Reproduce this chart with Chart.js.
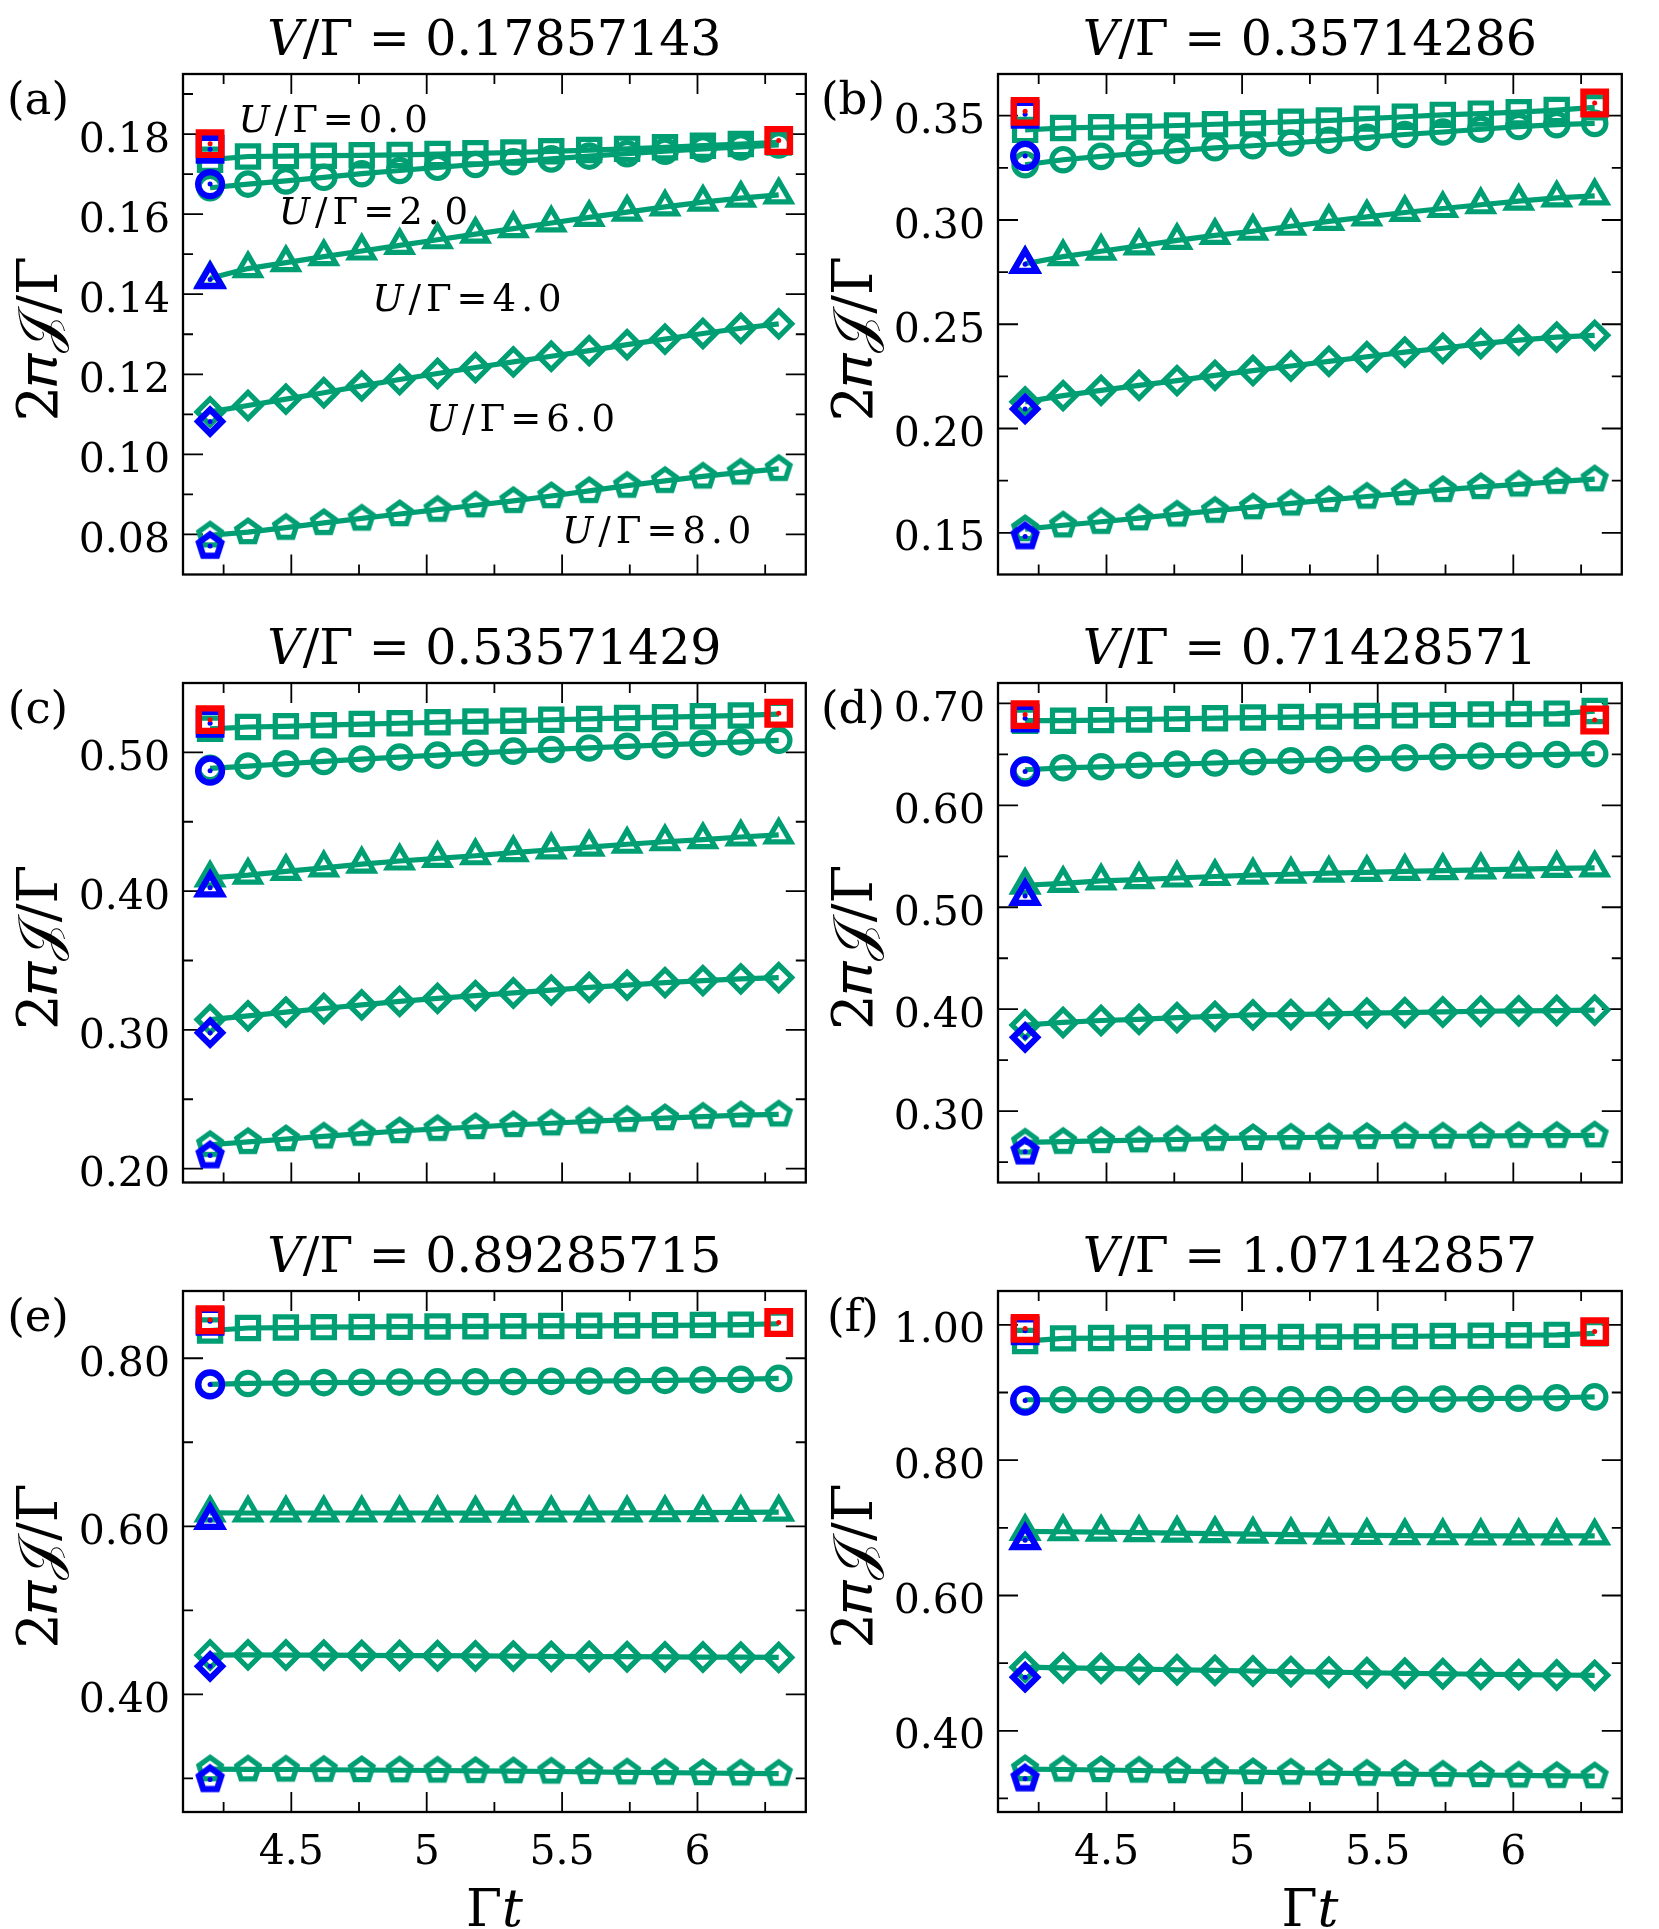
<!DOCTYPE html>
<html>
<head>
<meta charset="utf-8">
<title>Current vs time</title>
<script src="https://cdn.jsdelivr.net/npm/chart.js@4.4.1/dist/chart.umd.min.js"></script>
<style>
  html, body { margin: 0; padding: 0; background: #fff; }
  body { position: relative; width: 1659px; height: 1929px; overflow: hidden; }
  .panel { position: absolute; }
</style>
</head>
<body>
<script>
var FONT = '"DejaVu Serif", serif';
var GREEN = '#009e73', BLUE = '#0000ff', RED = '#ff0000';

// time axis (Gamma t) shared by every panel
var times = [4.20, 4.34, 4.48, 4.62, 4.76, 4.90, 5.04, 5.18, 5.32, 5.46, 5.60, 5.74, 5.88, 6.02, 6.16, 6.30];
var vOverGamma = ['0.17857143', '0.35714286', '0.53571429', '0.71428571', '0.89285715', '1.07142857'];
var uValues = ['0.0', '2.0', '4.0', '6.0', '8.0'];
var panelLetters = ['(a)', '(b)', '(c)', '(d)', '(e)', '(f)'];

// rows: U/Gamma = 0, 2, 4, 6, 8
var currentA = [
  [0.1736, 0.1744, 0.1745, 0.1746, 0.1747, 0.1748, 0.1750, 0.1752, 0.1754, 0.1757, 0.1760, 0.1763, 0.1767, 0.1771, 0.1775, 0.1779],
  [0.1666, 0.1675, 0.1683, 0.1692, 0.1701, 0.1709, 0.1717, 0.1724, 0.1731, 0.1738, 0.1745, 0.1751, 0.1757, 0.1763, 0.1768, 0.1773],
  [0.1440, 0.1464, 0.1479, 0.1494, 0.1508, 0.1522, 0.1536, 0.1550, 0.1564, 0.1578, 0.1592, 0.1605, 0.1618, 0.1630, 0.1640, 0.1648],
  [0.1106, 0.1122, 0.1138, 0.1154, 0.1171, 0.1187, 0.1202, 0.1217, 0.1231, 0.1245, 0.1259, 0.1274, 0.1288, 0.1302, 0.1315, 0.1326],
  [0.0798, 0.0806, 0.0817, 0.0829, 0.0840, 0.0851, 0.0862, 0.0873, 0.0884, 0.0896, 0.0909, 0.0922, 0.0934, 0.0945, 0.0955, 0.0964]
];
var currentB = [
  [0.3432, 0.3441, 0.3445, 0.3448, 0.3453, 0.3459, 0.3464, 0.3471, 0.3477, 0.3486, 0.3495, 0.3504, 0.3510, 0.3517, 0.3527, 0.3540],
  [0.3265, 0.3289, 0.3305, 0.3319, 0.3333, 0.3346, 0.3356, 0.3369, 0.3382, 0.3396, 0.3410, 0.3422, 0.3435, 0.3448, 0.3457, 0.3463],
  [0.2790, 0.2824, 0.2850, 0.2876, 0.2902, 0.2926, 0.2946, 0.2970, 0.2993, 0.3015, 0.3036, 0.3055, 0.3073, 0.3090, 0.3106, 0.3116],
  [0.2128, 0.2158, 0.2183, 0.2207, 0.2230, 0.2255, 0.2278, 0.2300, 0.2322, 0.2344, 0.2366, 0.2385, 0.2407, 0.2424, 0.2438, 0.2447],
  [0.1518, 0.1536, 0.1553, 0.1570, 0.1588, 0.1606, 0.1623, 0.1641, 0.1658, 0.1674, 0.1690, 0.1706, 0.1720, 0.1732, 0.1745, 0.1757]
];
var currentC = [
  [0.5170, 0.5183, 0.5188, 0.5196, 0.5204, 0.5210, 0.5217, 0.5223, 0.5228, 0.5235, 0.5241, 0.5248, 0.5254, 0.5260, 0.5266, 0.5276],
  [0.4885, 0.4901, 0.4918, 0.4935, 0.4952, 0.4966, 0.4980, 0.4995, 0.5009, 0.5021, 0.5032, 0.5043, 0.5054, 0.5065, 0.5076, 0.5087],
  [0.4095, 0.4115, 0.4142, 0.4168, 0.4195, 0.4217, 0.4236, 0.4255, 0.4277, 0.4298, 0.4317, 0.4338, 0.4356, 0.4371, 0.4390, 0.4405],
  [0.3074, 0.3101, 0.3128, 0.3154, 0.3180, 0.3205, 0.3227, 0.3247, 0.3266, 0.3287, 0.3306, 0.3323, 0.3341, 0.3355, 0.3368, 0.3377],
  [0.2172, 0.2193, 0.2213, 0.2232, 0.2252, 0.2271, 0.2287, 0.2300, 0.2315, 0.2327, 0.2340, 0.2353, 0.2364, 0.2375, 0.2385, 0.2391]
];
var currentD = [
  [0.6830, 0.6830, 0.6836, 0.6842, 0.6848, 0.6855, 0.6861, 0.6866, 0.6872, 0.6877, 0.6882, 0.6887, 0.6892, 0.6896, 0.6900, 0.6925],
  [0.6349, 0.6368, 0.6378, 0.6393, 0.6404, 0.6415, 0.6428, 0.6437, 0.6448, 0.6458, 0.6466, 0.6476, 0.6484, 0.6492, 0.6499, 0.6506],
  [0.5216, 0.5234, 0.5258, 0.5272, 0.5287, 0.5302, 0.5316, 0.5324, 0.5334, 0.5342, 0.5353, 0.5360, 0.5367, 0.5375, 0.5382, 0.5386],
  [0.3845, 0.3870, 0.3889, 0.3900, 0.3918, 0.3929, 0.3944, 0.3947, 0.3955, 0.3962, 0.3966, 0.3973, 0.3980, 0.3984, 0.3987, 0.3991],
  [0.2693, 0.2700, 0.2708, 0.2715, 0.2722, 0.2730, 0.2737, 0.2741, 0.2744, 0.2748, 0.2752, 0.2752, 0.2755, 0.2759, 0.2759, 0.2763]
];
var currentE = [
  [0.8330, 0.8360, 0.8365, 0.8370, 0.8372, 0.8375, 0.8377, 0.8380, 0.8382, 0.8384, 0.8386, 0.8389, 0.8392, 0.8395, 0.8400, 0.8410],
  [0.7688, 0.7700, 0.7705, 0.7710, 0.7713, 0.7716, 0.7718, 0.7720, 0.7722, 0.7725, 0.7728, 0.7732, 0.7737, 0.7742, 0.7748, 0.7760],
  [0.6160, 0.6158, 0.6158, 0.6158, 0.6158, 0.6158, 0.6158, 0.6157, 0.6157, 0.6158, 0.6158, 0.6159, 0.6161, 0.6163, 0.6165, 0.6168],
  [0.4468, 0.4470, 0.4468, 0.4466, 0.4464, 0.4462, 0.4460, 0.4457, 0.4455, 0.4452, 0.4450, 0.4448, 0.4446, 0.4444, 0.4442, 0.4440],
  [0.3110, 0.3108, 0.3106, 0.3103, 0.3100, 0.3097, 0.3094, 0.3090, 0.3086, 0.3082, 0.3077, 0.3072, 0.3068, 0.3064, 0.3060, 0.3056]
];
var currentF = [
  [0.9760, 0.9800, 0.9805, 0.9810, 0.9813, 0.9816, 0.9818, 0.9820, 0.9823, 0.9826, 0.9830, 0.9835, 0.9840, 0.9846, 0.9852, 0.9875],
  [0.8893, 0.8893, 0.8893, 0.8893, 0.8893, 0.8893, 0.8893, 0.8893, 0.8894, 0.8896, 0.8899, 0.8903, 0.8908, 0.8915, 0.8922, 0.8935],
  [0.6947, 0.6942, 0.6937, 0.6930, 0.6922, 0.6914, 0.6906, 0.6899, 0.6893, 0.6888, 0.6885, 0.6883, 0.6882, 0.6881, 0.6880, 0.6880],
  [0.4940, 0.4930, 0.4922, 0.4912, 0.4902, 0.4893, 0.4884, 0.4875, 0.4866, 0.4858, 0.4850, 0.4843, 0.4836, 0.4830, 0.4825, 0.4820],
  [0.3435, 0.3428, 0.3421, 0.3413, 0.3405, 0.3397, 0.3390, 0.3383, 0.3375, 0.3368, 0.3361, 0.3354, 0.3347, 0.3341, 0.3335, 0.3330]
];

// blue markers at t = 4.2 (U = 0, 2, 4, 6, 8)
var limitA = [0.1762, 0.1675, 0.1437, 0.1082, 0.0771];
var limitB = [0.3507, 0.3307, 0.2788, 0.2094, 0.1482];
var limitC = [0.5210, 0.4868, 0.4025, 0.2980, 0.2094];
var limitD = [0.6855, 0.6331, 0.5110, 0.3724, 0.2602];
var limitE = [0.8440, 0.7688, 0.6073, 0.4333, 0.2988];
var limitF = [0.9913, 0.8880, 0.6815, 0.4793, 0.3293];

// red squares, U = 0, first and last time
var edgeA = [0.1776, 0.1784];
var edgeB = [0.3521, 0.3561];
var edgeC = [0.5236, 0.5282];
var edgeD = [0.6890, 0.6837];
var edgeE = [0.8458, 0.8425];
var edgeF = [0.9947, 0.9900];

var yMin = [0.07, 0.13, 0.19, 0.23, 0.26, 0.28];
var yMax = [0.195, 0.37, 0.55, 0.72, 0.88, 1.05];
var yTicks = [
  [0.08, 0.10, 0.12, 0.14, 0.16, 0.18],
  [0.15, 0.20, 0.25, 0.30, 0.35],
  [0.20, 0.30, 0.40, 0.50],
  [0.30, 0.40, 0.50, 0.60, 0.70],
  [0.40, 0.60, 0.80],
  [0.40, 0.60, 0.80, 1.00]
];
var yMinor = [
  [0.09, 0.11, 0.13, 0.15, 0.17, 0.19],
  [0.175, 0.225, 0.275, 0.325],
  [0.25, 0.35, 0.45],
  [0.25, 0.35, 0.45, 0.55, 0.65],
  [0.30, 0.50, 0.70],
  [0.30, 0.50, 0.70, 0.90]
];
var xTicks = [4.5, 5, 5.5, 6];
var xMinor = [4.25, 4.75, 5.25, 5.75, 6.25];

// where the U/Gamma notes of panel (a) sit, in data units
var noteAnchors = [[4.305, 0.1842], [4.454, 0.1613], [4.799, 0.1394], [4.997, 0.1094], [5.50, 0.0814]];

var currents = [currentA, currentB, currentC, currentD, currentE, currentF];
var limits = [limitA, limitB, limitC, limitD, limitE, limitF];
var edges = [edgeA, edgeB, edgeC, edgeD, edgeE, edgeF];

// panel boxes (plot area) in page pixels
var colLeft = [183, 998], colWidth = [631, 632];
var rowTop = [74, 683, 1291], rowHeight = [522, 521, 521];

function pentagon(r, lw, color) {
  var s = Math.ceil(2 * r + 2 * lw + 6);
  var c = document.createElement('canvas');
  c.width = s; c.height = s;
  var g = c.getContext('2d');
  g.translate(s / 2, s / 2);
  g.beginPath();
  for (var k = 0; k < 5; k++) {
    var a = -Math.PI / 2 + k * 2 * Math.PI / 5;
    g.lineTo(r * Math.cos(a), r * Math.sin(a));
  }
  g.closePath();
  g.lineJoin = 'miter';
  g.lineWidth = lw;
  g.strokeStyle = color;
  g.stroke();
  return c;
}

var greenStyle = ['rect', 'circle', 'triangle', 'rectRot', pentagon(11.8, 5.2, GREEN)];
var greenRadius = [15, 11.2, 14, 13, 11.5];
var blueStyle = ['rect', 'circle', 'triangle', 'rectRot', pentagon(11.8, 6.2, BLUE)];
var blueRadius = [16, 12, 13.5, 12, 11.5];

Chart.defaults.font.family = FONT;
Chart.defaults.color = '#000';

function framePlugin(minorY) {
  return {
    id: 'frameTicks',
    beforeDatasetsDraw: function (chart) {
      var ctx = chart.ctx, a = chart.chartArea, x = chart.scales.x, y = chart.scales.y;
      ctx.save();
      ctx.strokeStyle = '#000';
      ctx.lineWidth = 1.8;
      ctx.beginPath();
      function xt(v, len) {
        var p = x.getPixelForValue(v);
        ctx.moveTo(p, a.bottom); ctx.lineTo(p, a.bottom - len);
        ctx.moveTo(p, a.top); ctx.lineTo(p, a.top + len);
      }
      function yt(v, len) {
        var p = y.getPixelForValue(v);
        ctx.moveTo(a.left, p); ctx.lineTo(a.left + len, p);
        ctx.moveTo(a.right, p); ctx.lineTo(a.right - len, p);
      }
      x.ticks.forEach(function (t) { xt(t.value, 20); });
      xMinor.forEach(function (v) { xt(v, 10); });
      y.ticks.forEach(function (t) { yt(t.value, 20); });
      minorY.forEach(function (v) { yt(v, 10); });
      ctx.stroke();
      ctx.lineWidth = 2.3;
      ctx.strokeRect(a.left, a.top, a.right - a.left, a.bottom - a.top);
      ctx.restore();
    }
  };
}

function textPlugin(letter, withNotes) {
  return {
    id: 'panelText',
    afterDatasetsDraw: function (chart) {
      var ctx = chart.ctx, a = chart.chartArea;
      ctx.save();
      ctx.fillStyle = '#000';
      ctx.textBaseline = 'middle';
      ctx.textAlign = 'center';
      ctx.font = '45px ' + FONT;
      ctx.fillText(letter, a.left - 145, a.top + 28);
      if (withNotes) {
        ctx.font = '37px ' + FONT;
        ctx.textAlign = 'left';
        ctx.letterSpacing = '5px';
        noteAnchors.forEach(function (p, k) {
          ctx.fillText('𝑈/Γ=' + uValues[k],
            chart.scales.x.getPixelForValue(p[0]),
            chart.scales.y.getPixelForValue(p[1]) + 5);
        });
      }
      ctx.restore();
    }
  };
}

function makePanel(i) {
  var row = Math.floor(i / 2), col = i % 2;
  var bottomRow = row === 2;
  var plotW = colWidth[col], plotH = rowHeight[row];
  var bottomSpace = bottomRow ? 1929 - (rowTop[row] + plotH) : 12;
  var rightPad = 14;

  var box = document.createElement('div');
  box.className = 'panel';
  box.style.left = (colLeft[col] - 183) + 'px';
  box.style.top = (rowTop[row] - 74) + 'px';
  box.style.width = (183 + plotW + rightPad) + 'px';
  box.style.height = (74 + plotH + bottomSpace) + 'px';
  var cv = document.createElement('canvas');
  box.appendChild(cv);
  document.body.appendChild(box);

  var t0 = times[0], tN = times[times.length - 1];
  var datasets = [];
  // drawn last-to-first, so the top layers come first
  datasets.push({
    data: [{ x: t0, y: edges[i][0] }, { x: tN, y: edges[i][1] }],
    pointStyle: 'circle', pointRadius: 2.5, pointBorderWidth: 0,
    pointBackgroundColor: RED, showLine: false, clip: false
  });
  datasets.push({
    data: [{ x: t0, y: edges[i][0] }, { x: tN, y: edges[i][1] }],
    pointStyle: 'rect', pointRadius: 16, pointBorderWidth: 6.2,
    pointBorderColor: RED, pointBackgroundColor: 'rgba(0,0,0,0)', showLine: false, clip: false
  });
  datasets.push({
    data: limits[i].map(function (v) { return { x: t0, y: v }; }),
    pointStyle: 'circle', pointRadius: 2.5, pointBorderWidth: 0,
    pointBackgroundColor: BLUE, showLine: false, clip: false
  });
  datasets.push({
    data: limits[i].map(function (v) { return { x: t0, y: v }; }),
    pointStyle: blueStyle, pointRadius: blueRadius, pointBorderWidth: 6.2,
    pointBorderColor: BLUE, pointBackgroundColor: 'rgba(0,0,0,0)', showLine: false, clip: false
  });
  currents[i].forEach(function (vals, k) {
    datasets.push({
      data: times.map(function (t, j) { return { x: t, y: vals[j] }; }),
      showLine: true, borderColor: GREEN, borderWidth: 5.2,
      pointStyle: greenStyle[k], pointRadius: greenRadius[k], pointBorderWidth: 5.2,
      pointBorderColor: GREEN, pointBackgroundColor: 'rgba(0,0,0,0)', clip: false
    });
  });

  new Chart(cv, {
    type: 'scatter',
    data: { datasets: datasets },
    options: {
      responsive: true,
      maintainAspectRatio: false,
      animation: false,
      events: [],
      layout: { padding: { left: 0, right: rightPad, top: 0, bottom: 0 } },
      plugins: {
        legend: { display: false },
        tooltip: { enabled: false },
        title: {
          display: true,
          text: '𝑉/Γ = ' + vOverGamma[i],
          fullSize: false,
          color: '#000',
          font: { family: FONT, size: 49, weight: 'normal', lineHeight: 1 },
          padding: { top: 18, bottom: 7 }
        }
      },
      scales: {
        x: {
          type: 'linear', min: 4.1, max: 6.4, bounds: 'data',
          grid: { display: false, drawTicks: false },
          border: { display: false },
          afterBuildTicks: function (s) { s.ticks = xTicks.map(function (v) { return { value: v }; }); },
          afterFit: function (s) { s.height = bottomSpace; },
          ticks: {
            display: bottomRow, autoSkip: false, maxRotation: 0, padding: 21, color: '#000',
            font: { family: FONT, size: 41, lineHeight: 1 },
            callback: function (v) { return String(v); }
          },
          title: {
            display: bottomRow, text: 'Γ𝑡', color: '#000',
            font: { family: FONT, size: 52, lineHeight: 0.65 },
            padding: { top: 0, bottom: 0 }
          }
        },
        y: {
          type: 'linear', position: 'left', min: yMin[i], max: yMax[i], bounds: 'data',
          grid: { display: false, drawTicks: false },
          border: { display: false },
          afterBuildTicks: function (s) { s.ticks = yTicks[i].map(function (v) { return { value: v }; }); },
          afterFit: function (s) { s.width = 183; },
          ticks: {
            autoSkip: false, padding: 13, labelOffset: 7, color: '#000',
            font: { family: FONT, size: 41, lineHeight: 1 },
            callback: function (v) { return v.toFixed(2); }
          },
          title: {
            display: true, text: '2𝜋𝒥/Γ \u2009', color: '#000',
            font: { family: FONT, size: 56, lineHeight: 1 },
            padding: { top: 14, bottom: 0 }
          }
        }
      }
    },
    plugins: [framePlugin(yMinor[i]), textPlugin(panelLetters[i], i === 0)]
  });
}

for (var i = 0; i < 6; i++) makePanel(i);
</script>
</body>
</html>
